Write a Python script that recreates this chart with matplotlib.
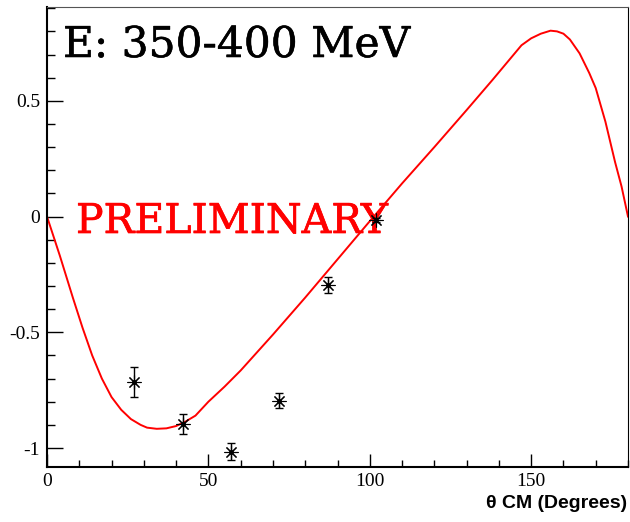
import os

import matplotlib

matplotlib.use("Agg")
import matplotlib.pyplot as plt
from matplotlib import patheffects
from matplotlib.font_manager import FontProperties
from matplotlib.ticker import MultipleLocator

# measured points
theta = [27, 42, 57, 72, 87, 102]
asym = [-0.716, -0.896, -1.016, -0.796, -0.296, -0.015]
asym_err = [0.065, 0.045, 0.037, 0.032, 0.034, 0.01]

# model curve
curve_theta = [0, 2, 4, 8, 11, 14, 17, 20, 23, 26, 29, 31, 34, 37, 40, 43, 46,
               50, 55, 60, 70, 80, 90, 100, 110, 120, 130, 134, 138, 141, 144,
               147, 150, 153, 156, 158, 160, 162, 165, 168, 170, 173, 176, 178, 180]
curve_asym = [0.0, -0.085, -0.17, -0.35, -0.48, -0.60, -0.70, -0.78, -0.835,
              -0.875, -0.90, -0.912, -0.917, -0.915, -0.905, -0.885, -0.86,
              -0.80, -0.735, -0.665, -0.51, -0.35, -0.185, -0.02, 0.143, 0.30,
              0.46, 0.525, 0.59, 0.64, 0.69, 0.74, 0.77, 0.79, 0.803, 0.80,
              0.79, 0.765, 0.705, 0.62, 0.555, 0.41, 0.235, 0.13, 0.0]

serif_path = os.path.join(matplotlib.get_data_path(), "fonts", "ttf", "DejaVuSerif.ttf")

fig = plt.figure(figsize=(6.3, 5.22), dpi=100)
ax = fig.add_axes([47 / 630, 1 - 467 / 522, 581 / 630, (467 - 7.3) / 522])

ax.plot(curve_theta, curve_asym, color="red", linewidth=1.4, zorder=2)
ax.errorbar(theta, asym, yerr=asym_err, fmt="none", ecolor="black",
            elinewidth=1.0, capsize=3, capthick=1.0, zorder=3)
ax.plot(theta, asym, linestyle="none", marker=(8, 2, 0), markersize=10,
        markeredgewidth=0.8, color="black", zorder=4)
ax.plot(theta, asym, linestyle="none", marker="o", markersize=2.5,
        color="black", zorder=5)

ax.set_xlim(0, 180)
ax.set_ylim(-1.082, 0.904)
ax.xaxis.set_minor_locator(MultipleLocator(10))
ax.yaxis.set_minor_locator(MultipleLocator(0.1))
ax.set_xticks([0, 50, 100, 150])
ax.set_xticklabels(["0", "50", "100", "150"])
ax.set_yticks([-1, -0.5, 0, 0.5])
ax.set_yticklabels(["-1", "-0.5", "0", "0.5"])

ax.tick_params(axis="both", which="both", direction="in", top=False, right=False,
               labelsize=14, width=1.0)
ax.tick_params(axis="y", which="major", length=11.5, pad=5)
ax.tick_params(axis="y", which="minor", length=5.8)
ax.tick_params(axis="x", which="major", length=9.5, pad=4)
ax.tick_params(axis="x", which="minor", length=5)
for label in ax.get_xticklabels() + ax.get_yticklabels():
    label.set_family("Liberation Serif")

ax.spines["left"].set_linewidth(1.5)
ax.spines["bottom"].set_linewidth(1.5)
ax.spines["top"].set_linewidth(0.8)
ax.spines["top"].set_color("#555555")
ax.spines["right"].set_linewidth(0.8)

fig.text(627 / 630, 1 - 503 / 522, "\u03b8 CM (Degrees)", ha="right", va="center",
         fontsize=14, fontweight="bold", family="Liberation Sans")
ax.text(63 / 630, 1 - 45 / 522, "E: 350-400 MeV", ha="left", va="center",
        transform=fig.transFigure, zorder=1,
        fontproperties=FontProperties(fname=serif_path, size=30.5), color="black",
        path_effects=[patheffects.withStroke(linewidth=0.4, foreground="black")])
ax.text(76 / 630, 1 - 233 / 522, "PRELIMINARY", ha="left", va="baseline",
        transform=fig.transFigure, zorder=1,
        fontproperties=FontProperties(fname=serif_path, size=29.5), color="red",
        path_effects=[patheffects.withStroke(linewidth=0.5, foreground="red")])

fig.savefig("out.png", dpi=100)
